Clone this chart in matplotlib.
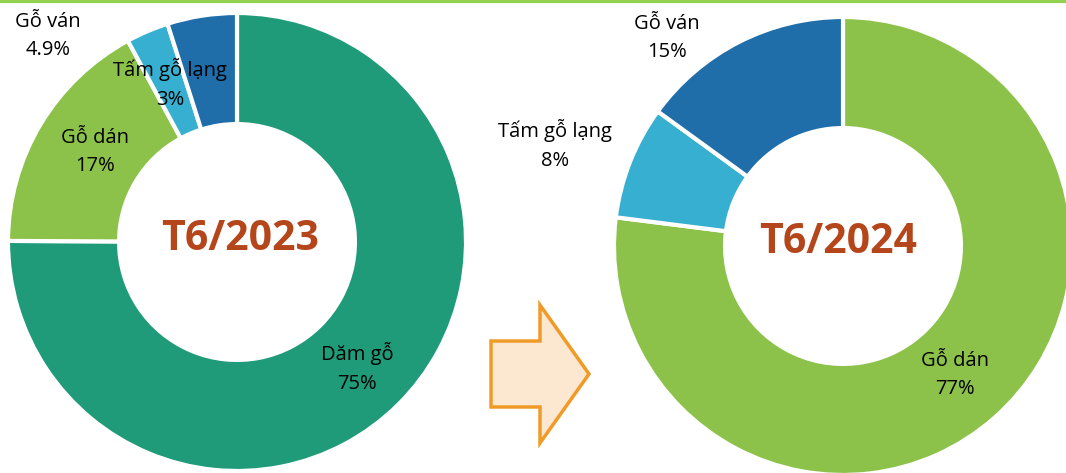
import matplotlib.pyplot as plt
from matplotlib.patches import Polygon

# Cơ cấu xuất khẩu gỗ (tỷ trọng %)
labels_2023 = ["Dăm gỗ", "Gỗ dán", "Tấm gỗ lạng", "Gỗ ván"]
values_2023 = [75, 17, 3, 4.9]
pct_2023 = ["75%", "17%", "3%", "4.9%"]

labels_2024 = ["Gỗ dán", "Tấm gỗ lạng", "Gỗ ván"]
values_2024 = [77, 8, 15]
pct_2024 = ["77%", "8%", "15%"]

colors = {"Dăm gỗ": "#1F9B79", "Gỗ dán": "#8CC24A",
          "Tấm gỗ lạng": "#36AFD0", "Gỗ ván": "#1F6EAA"}

W, H = 1066, 473
fig = plt.figure(figsize=(W / 100, H / 100), dpi=100)
ax = fig.add_axes([0, 0, 1, 1])
ax.set_xlim(0, W)
ax.set_ylim(0, H)
ax.set_aspect("equal")
ax.axis("off")

R = 229
ring = dict(width=R * 0.485, edgecolor="white", linewidth=3)

ax.pie(values_2023, colors=[colors[l] for l in labels_2023], startangle=90,
       counterclock=False, radius=R, center=(237, H - 242), wedgeprops=ring)
ax.pie(values_2024, colors=[colors[l] for l in labels_2024], startangle=90,
       counterclock=False, radius=R, center=(843, H - 246), wedgeprops=ring)
ax.set_xlim(0, W)
ax.set_ylim(0, H)

lab_font = dict(fontsize=14.5, family="Open Sans", ha="center", va="center",
                linespacing=1.55, color="black")

pos_2023 = [(357, 368), (95, 152), (170, 84), (48, 36)]
for lab, p, (x, y) in zip(labels_2023, pct_2023, pos_2023):
    ax.text(x, H - y, f"{lab}\n{p}", **lab_font)

pos_2024 = [(955, 375), (555, 145), (667, 38)]
for lab, p, (x, y) in zip(labels_2024, pct_2024, pos_2024):
    ax.text(x, H - y, f"{lab}\n{p}", **lab_font)

title_font = dict(fontsize=29.5, family="Open Sans", fontweight="bold",
                  color="#B5461C", ha="center", va="center")
ax.text(240, H - 240, "T6/2023", **title_font)
ax.text(838, H - 243, "T6/2024", **title_font)

# mũi tên ở giữa
arrow = [(491, 341), (540, 341), (540, 305), (589, 374),
         (540, 443), (540, 407), (491, 407)]
ax.add_patch(Polygon([(x, H - y) for x, y in arrow], closed=True,
                     facecolor="#FCE7D0", edgecolor="#F09A28", linewidth=2.5))

# đường kẻ xanh phía trên
ax.plot([0, W], [H - 1.5, H - 1.5], color="#92D050", linewidth=3,
        solid_capstyle="butt")

fig.savefig("out.png", dpi=100)
